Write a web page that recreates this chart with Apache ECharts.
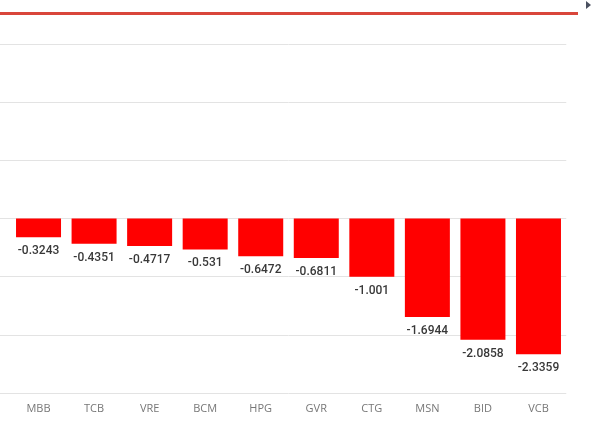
<!DOCTYPE html>
<html>
<head>
<meta charset="utf-8">
<script src="https://cdn.jsdelivr.net/npm/echarts@6/dist/echarts.min.js"></script>
<style>
  html, body { margin: 0; padding: 0; background: #fff; }
  #chart { width: 612px; height: 446px; }
</style>
</head>
<body>
<div id="chart"></div>
<script>
const categories = ['MBB', 'TCB', 'VRE', 'BCM', 'HPG', 'GVR', 'CTG', 'MSN', 'BID', 'VCB']
const values = [-0.3243, -0.4351, -0.4717, -0.531, -0.6472, -0.6811, -1.001, -1.6944, -2.0858, -2.3359]
const yMin = -3
const yMax = 3
const yStep = 1

const chart = echarts.init(document.getElementById('chart'))

const hiddenY = {
  type: 'value',
  min: yMin,
  max: yMax,
  interval: yStep,
  axisLabel: { show: false },
  axisLine: { show: false },
  axisTick: { show: false },
  splitLine: {
    lineStyle: { color: '#e3e3e3', width: 1 }
  }
}

chart.setOption({
  animation: false,
  backgroundColor: '#fff',
  grid: [
    { left: 10.75, right: 45.75, top: 44, bottom: 53 },
    // stub: the original grid runs on past the left edge of the picture
    { left: 0, width: 11, top: 44, bottom: 53 }
  ],
  graphic: [
    {
      type: 'rect',
      shape: { x: 0, y: 12, width: 578, height: 3 },
      style: { fill: '#d9463b' }
    },
    {
      type: 'polygon',
      shape: { points: [[586, 1], [586, 9], [591, 5]] },
      style: { fill: '#4a5060' }
    }
  ],
  xAxis: [
    {
      type: 'category',
      data: categories,
      gridIndex: 0,
      position: 'bottom',
      axisLine: { show: false, onZero: false },
      axisTick: { show: false },
      axisLabel: {
        color: '#777',
        fontFamily: 'Open Sans',
        fontSize: 11,
        margin: 10
      }
    },
    { type: 'category', data: [''], gridIndex: 1, show: false }
  ],
  yAxis: [
    Object.assign({ gridIndex: 0 }, hiddenY),
    Object.assign({ gridIndex: 1 }, hiddenY)
  ],
  series: [{
    type: 'bar',
    data: values,
    barWidth: 45,
    itemStyle: { color: '#ff0000' },
    label: {
      show: true,
      position: 'bottom',
      distance: 8,
      color: '#383838',
      fontFamily: 'Roboto',
      fontSize: 12,
      fontWeight: 500
    }
  }]
})
</script>
</body>
</html>
